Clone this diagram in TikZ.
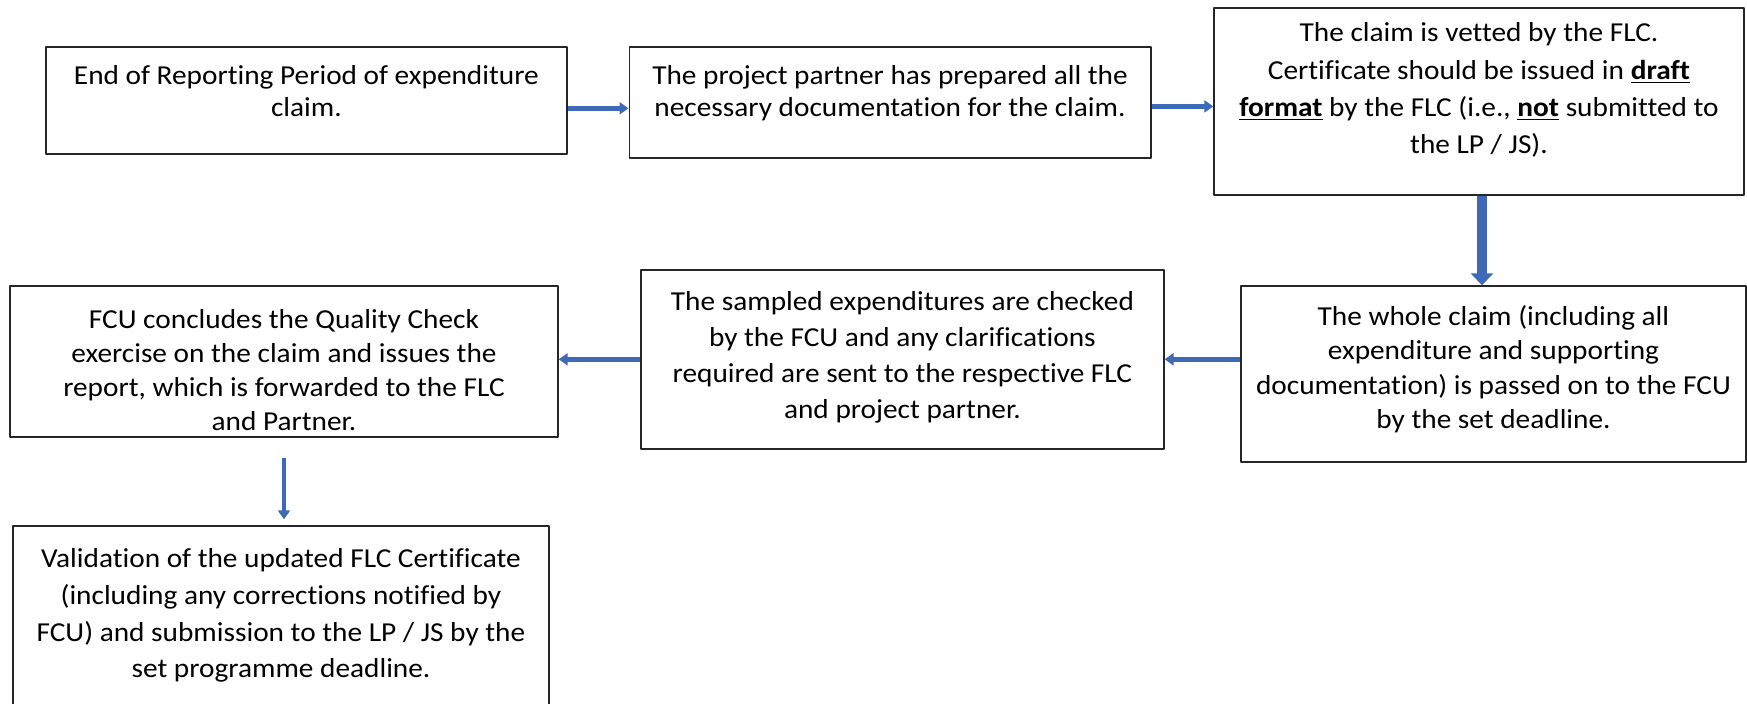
\documentclass[tikz,border=0pt]{standalone}
\usepackage{fontspec}
\setmainfont{Carlito}[FakeStretch=1.07, Ligatures=NoCommon]
\usetikzlibrary{arrows.meta}
\definecolor{flowblue}{HTML}{3E69B6}
\tikzset{
	stepbox/.style={draw=black!85, line width=0.7pt, inner sep=0pt, font=\fontsize{13.7}{17}\selectfont},
	flow/.style={draw=flowblue, line width=2.2pt, -{Triangle[width=6pt,length=4.5pt]}},
	bigflow/.style={draw=flowblue, line width=5pt, -{Triangle[width=11pt,length=6pt]}},
}
\newcommand{\ulb}[1]{\underline{\textbf{#1}}}
% centred lines, lifted inside the box by #1
\newcommand{\boxtext}[2]{\raisebox{#1}[\height][\depth]{\begin{tabular}{@{}c@{}}#2\end{tabular}}}
\begin{document}
\begin{tikzpicture}[x=0.5pt, y=-0.5pt, line join=round]
	\clip (0,0) rectangle (1747,703);
	% upper row
	\node[stepbox, minimum width=260.5pt, minimum height=53.5pt, font=\fontsize{13.7}{15.6}\selectfont] (end) at (306.4,100.3)
		{\boxtext{3pt}{End of Reporting Period of expenditure\\claim.}};
	\node[stepbox, minimum width=260.8pt, minimum height=55.5pt, font=\fontsize{13.7}{16}\selectfont] (prep) at (890,102.4)
		{\boxtext{4pt}{The project partner has prepared all the\\necessary documentation for the claim.}};
	\node[stepbox, minimum width=265pt, minimum height=93.5pt, font=\fontsize{13.7}{18.6}\selectfont] (vet) at (1479,101.4)
		{\boxtext{5.6pt}{The claim is vetted by the FLC.\\Certificate should be issued in \ulb{draft}\\\ulb{format} by the FLC (i.e., \ulb{not} submitted to\\the LP / JS).}};
	% middle row
	\node[stepbox, minimum width=252.5pt, minimum height=88pt, font=\fontsize{13.7}{17.3}\selectfont] (pass) at (1493.5,374)
		{\boxtext{2pt}{The whole claim (including all\\expenditure and supporting\\documentation) is passed on to the FCU\\by the set deadline.}};
	\node[stepbox, minimum width=261.5pt, minimum height=89.5pt, font=\fontsize{13.7}{18}\selectfont] (check) at (902.4,359.3)
		{\boxtext{1.1pt}{The sampled expenditures are checked\\by the FCU and any clarifications\\required are sent to the respective FLC\\and project partner.}};
	\node[stepbox, minimum width=274pt, minimum height=75.5pt, font=\fontsize{13.7}{16.9}\selectfont] (qc) at (284,361.5)
		{\boxtext{-5.6pt}{FCU concludes the Quality Check\\exercise on the claim and issues the\\report, which is forwarded to the FLC\\and Partner.}};
	% bottom (box runs past the lower edge)
	\node[stepbox, minimum width=268pt, minimum height=114pt, font=\fontsize{13.7}{18.4}\selectfont] (valid) at (281,640)
		{\boxtext{12.3pt}{Validation of the updated FLC Certificate\\(including any corrections notified by\\FCU) and submission to the LP / JS by the\\set programme deadline.}};
	% arrows
	\draw[flow] ([yshift=-4pt]end.east) -- ([yshift=-4pt]end.east -| prep.west);
	\draw[flow] ([yshift=-2pt]prep.east) -- ([yshift=-2pt]prep.east -| vet.west);
	\draw[bigflow] ([xshift=1.5pt]vet.south) -- ([xshift=1.5pt]vet.south |- pass.north);
	\draw[flow, line width=2.8pt] (pass.west |- check.east) -- (check.east);
	\draw[flow, line width=2.8pt] (check.west) -- (check.west -| qc.east);
	\draw[flow] ([yshift=-10pt]qc.south) -- ([yshift=3pt]qc.south |- valid.north);
\end{tikzpicture}
\end{document}
